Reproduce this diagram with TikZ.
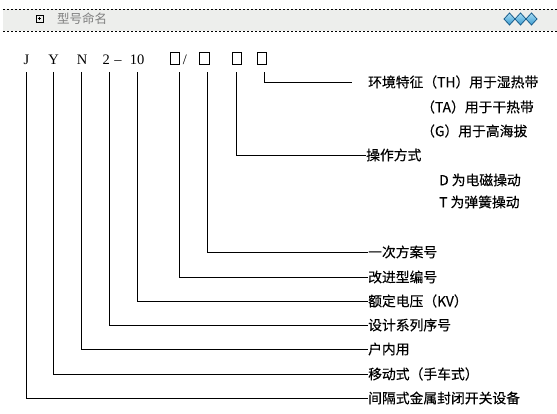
\documentclass[tikz,border=0pt]{standalone}
\usepackage{fontspec}
\setmainfont{Noto Sans CJK SC}
\newfontfamily\descfont[FakeBold=0.35]{Noto Sans CJK SC}
\newfontfamily\codefont{Liberation Serif}
\usepackage{tikz}

\definecolor{bandgray}{HTML}{EDEEEC}
\definecolor{titlegray}{HTML}{808080}
\definecolor{gemdark}{HTML}{1B5E8C}
\definecolor{gemlight}{HTML}{A8DDF5}
\definecolor{gemmid}{HTML}{3A9BD0}

\begin{document}
\begin{tikzpicture}[x=1pt,y=-1pt,
        code/.style={anchor=base, inner sep=0pt, font=\codefont\fontsize{14.5}{16}\selectfont},
        box/.style={draw, line width=1pt, minimum width=9.3pt, minimum height=11.7pt, inner sep=0pt},
        desc/.style={anchor=west, inner sep=0pt, font=\descfont\fontsize{13.8}{16}\selectfont},
        conn/.style={line width=1pt}]

        \useasboundingbox (0,0) rectangle (557,413);

        %Header
        \fill [bandgray] (3,9) rectangle (557,31);
        \draw [line width=1pt, dash pattern=on 2pt off 2pt] (3,9) -- (557,9);
        \draw [line width=1pt, dash pattern=on 2pt off 2pt] (3,31) -- (557,31);
        \draw [line width=0.9pt] (36,15) rectangle (43,22);
        \draw [line width=0.9pt] (37.6,18.5) -- (41.4,18.5);
        \draw [line width=0.9pt] (39.5,16.6) -- (39.5,20.4);
        \node (title) [anchor=west, inner sep=0pt, text=titlegray, font=\fontsize{12.5}{14}\selectfont] at (57,19) {型号命名};
        \foreach \gx in {509.5,520.5,531.5}
          \draw [gemdark, line width=0.8pt, top color=gemlight, bottom color=gemmid]
            (\gx-5.5,19) -- (\gx,13) -- (\gx+5.5,19) -- (\gx,25) -- cycle;

        %Type code
        \node (cJ)  [code] at (26.5,64) {J};
        \node (cY)  [code] at (53.5,64) {Y};
        \node (cN)  [code] at (82,64)   {N};
        \node (c2)  [code] at (106.3,64) {2};
        \node (cdash) [code] at (118,64) {–};
        \node (c10) [code] at (137,64) {10};
        \node (b1)  [box] at (175.3,58.2) {};
        \node (slash) [code] at (185,64) {/};
        \node (b2)  [box] at (204.5,58.2) {};
        \node (b3)  [box] at (237.2,58.2) {};
        \node (b4)  [box] at (262,58.2) {};

        %Explanations
        \node (dEnv)  [desc] at (368,82)  {环境特征（TH）用于湿热带};
        \node (dTA)   [desc] at (421,107) {（TA）用于干热带};
        \node (dG)    [desc] at (421,131) {（G）用于高海拔};
        \node (dOp)   [desc] at (366,155) {操作方式};
        \node (dD)    [desc] at (439,180) {D 为电磁操动};
        \node (dT)    [desc] at (439,202) {T 为弹簧操动};
        \node (dPlan) [desc] at (368,252) {一次方案号};
        \node (dMod)  [desc] at (368,277) {改进型编号};
        \node (dVolt) [desc] at (368,301) {额定电压（KV）};
        \node (dSer)  [desc] at (368,325) {设计系列序号};
        \node (dIn)   [desc] at (368,349) {户内用};
        \node (dMove) [desc] at (368,374) {移动式（手车式）};
        \node (dBay)  [desc] at (368,398) {间隔式金属封闭开关设备};

        %Leaders
        \draw [conn] ([xshift=-0.5pt,yshift=-7.7pt]cJ.south) |- (dBay.west);
        \draw [conn] ([xshift=-0.2pt,yshift=-7.7pt]cY.south) |- (dMove.west);
        \draw [conn] ([xshift=-0.7pt,yshift=-7.7pt]cN.south) |- (dIn.west);
        \draw [conn] ([xshift=3pt,yshift=-7.7pt]c2.south) |- (dSer.west);
        \draw [conn] ([xshift=0.3pt,yshift=-7.7pt]c10.south) |- (dVolt.west);
        \draw [conn] ([xshift=4pt,yshift=-7.7pt]b1.south) |- (dMod.west);
        \draw [conn] ([xshift=3.2pt,yshift=-7.7pt]b2.south) |- (dPlan.west);
        \draw [conn] ([xshift=-1.2pt,yshift=-7.7pt]b3.south) |- (dOp.west);
        \draw [conn] ([xshift=2.3pt,yshift=-7.7pt]b4.south) |- ([xshift=-16pt]dEnv.west);

\end{tikzpicture}
\end{document}
